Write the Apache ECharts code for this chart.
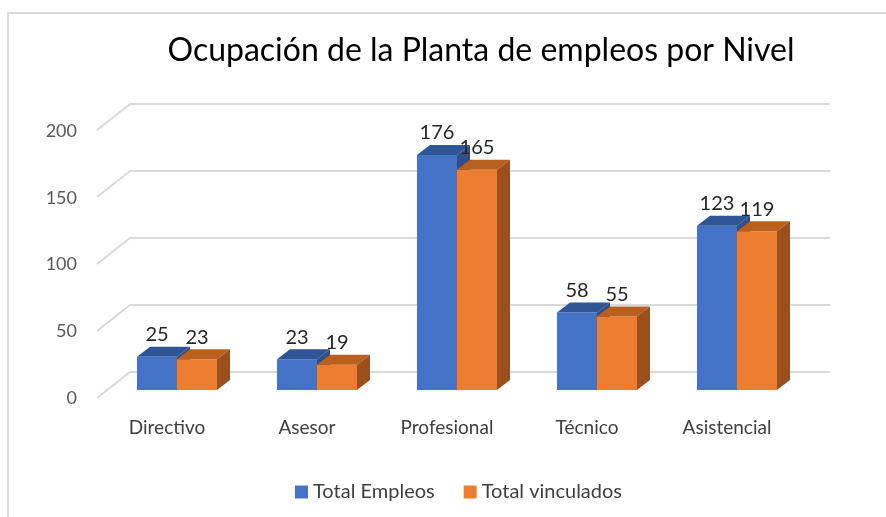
<!DOCTYPE html>
<html>
<head>
<meta charset="utf-8">
<script src="https://cdn.jsdelivr.net/npm/echarts@6/dist/echarts.min.js"></script>
<style>
  html, body { margin: 0; padding: 0; background: #fff; }
  #chart { width: 886px; height: 517px; }
</style>
</head>
<body>
<div id="chart"></div>
<script>
// datos de la grafica
const categories = ['Directivo', 'Asesor', 'Profesional', 'Técnico', 'Asistencial'];
const totalEmpleos = [25, 23, 176, 58, 123];
const totalVinculados = [23, 19, 165, 55, 119];
const yTicks = [0, 50, 100, 150, 200];

const FONT = 'Lato, "Open Sans", sans-serif';
// desplazamiento 3D (Excel)
const DEPTH_X = 33, DEPTH_Y = -26;   // pared frontal -> pared trasera
const BAR_X = 10, BAR_Y = -8;       // plano frontal de las barras
const TOP_X = 13, TOP_Y = -10;      // profundidad de la barra

function box(params, api, offset, colors) {
    const idx = api.value(0), val = api.value(1)
    const p = api.coord([idx, val])
    const b = api.coord([idx, 0])
    const bw = api.size([1, 0])[0] * 40 / 140
    const x0 = p[0] + BAR_X + offset * bw, x1 = x0 + bw
    const top = p[1] + BAR_Y, base = b[1] + BAR_Y
    return {
        type: 'group',
        children: [
            { type: 'rect', shape: { x: x0, y: top, width: bw, height: base - top }, style: { fill: colors[0] } },
            { type: 'polygon', shape: { points: [[x0, top], [x1, top], [x1 + TOP_X, top + TOP_Y], [x0 + TOP_X, top + TOP_Y]] }, style: { fill: colors[1] } },
            { type: 'polygon', shape: { points: [[x1, top], [x1 + TOP_X, top + TOP_Y], [x1 + TOP_X, base + TOP_Y], [x1, base]] }, style: { fill: colors[2] } },
            { type: 'text', z2: 10, style: { text: String(val), x: x0 + bw / 2, y: top - 22, align: 'center', verticalAlign: 'middle', fill: '#262626', font: '20px ' + FONT } }
        ]
    }
}

const chart = echarts.init(document.getElementById('chart'))
const option = {
    animation: false,
    backgroundColor: '#fff',
    title: {
        text: 'Ocupación de la Planta de empleos por Nivel',
        left: 476, top: 30, textAlign: 'center',
        textStyle: { fontFamily: FONT, fontSize: 32, fontWeight: 'normal', color: '#000' }
    },
    legend: {
        left: 290, top: 477,
        icon: 'rect', itemWidth: 13, itemHeight: 13, itemGap: 29,
        textStyle: { fontFamily: FONT, fontSize: 20, color: '#404040' },
        data: ['Total Empleos', 'Total vinculados']
    },
    graphic: [{
        type: 'polyline',
        shape: { points: [[8, 517], [8, 13], [886, 13]] },
        style: { stroke: '#d9d9d9', lineWidth: 2, fill: null }
    }],
    grid: [
        { left: 130, top: 104, width: 700, height: 268 },   // pared trasera
        { left: 97, top: 131, width: 700, height: 267 }     // plano frontal
    ],
    xAxis: [
        { gridIndex: 0, type: 'category', data: categories, show: false },
        {
            gridIndex: 1, type: 'category', data: categories,
            axisLine: { show: false }, axisTick: { show: false },
            axisLabel: { margin: 20, fontFamily: FONT, fontSize: 19, color: '#404040' }
        }
    ],
    yAxis: [
        {
            gridIndex: 0, type: 'value', min: 0, max: 200, interval: 50,
            axisLabel: { show: false }, axisLine: { show: false }, axisTick: { show: false },
            splitLine: { lineStyle: { color: '#d9d9d9', width: 2 } }
        },
        {
            gridIndex: 1, type: 'value', min: 0, max: 200, interval: 50,
            axisLine: { show: false }, axisTick: { show: false }, splitLine: { show: false },
            axisLabel: { margin: 20, fontFamily: FONT, fontSize: 18, color: '#595959' }
        }
    ],
    series: [
        {
            // lineas diagonales del piso
            type: 'custom', xAxisIndex: 0, yAxisIndex: 0, silent: true,
            data: yTicks.map(v => [0, v]),
            renderItem: (params, api) => {
                const y = api.coord([0, api.value(1)])[1]
                const x = params.coordSys.x
                return { type: 'line', shape: { x1: x - DEPTH_X, y1: y - DEPTH_Y, x2: x, y2: y }, style: { stroke: '#d9d9d9', lineWidth: 2 } }
            }
        },
        {
            name: 'Total Empleos', type: 'custom', xAxisIndex: 1, yAxisIndex: 1,
            itemStyle: { color: '#4472C4' },
            data: totalEmpleos.map((v, i) => [i, v]),
            renderItem: (params, api) => box(params, api, -1, ['#4472C4', '#2F5597', '#2E4F8C'])
        },
        {
            name: 'Total vinculados', type: 'custom', xAxisIndex: 1, yAxisIndex: 1,
            itemStyle: { color: '#ED7D31' },
            data: totalVinculados.map((v, i) => [i, v]),
            renderItem: (params, api) => box(params, api, 0, ['#ED7D31', '#B9601F', '#9C4F1A'])
        }
    ]
}
chart.setOption(option)
</script>
</body>
</html>
